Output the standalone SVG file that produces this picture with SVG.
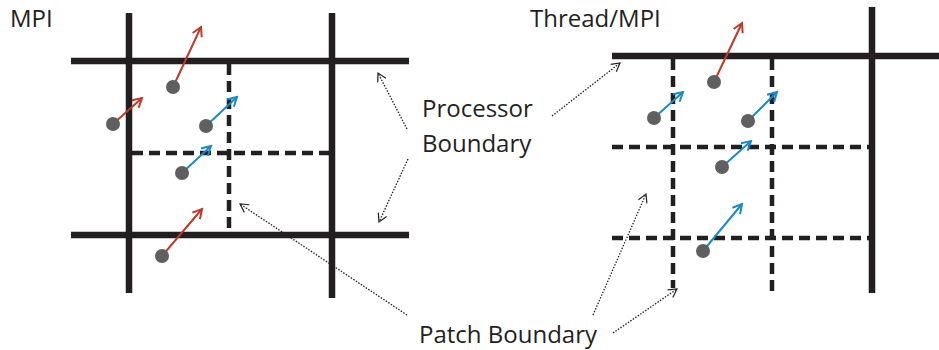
<svg xmlns="http://www.w3.org/2000/svg" width="939" height="350" viewBox="0 0 939 350">
<defs>
<style>
.solid{stroke:#231f20;stroke-width:6.5;fill:none}
.dash{stroke:#231f20;stroke-width:4.5;stroke-dasharray:11 6;fill:none}
.dot{fill:#5f5f60}
.red{stroke:#be3a26;stroke-width:2;fill:none;marker-end:url(#hr)}
.blue{stroke:#1a8ac6;stroke-width:2;fill:none;marker-end:url(#hb)}
.ptr{stroke:#231f20;stroke-width:1.3;stroke-dasharray:1.5 1.5;fill:none;marker-end:url(#hk)}
text{font-family:"Open Sans","Liberation Sans",sans-serif;font-size:24px;fill:#231f20}
</style>
<marker id="hr" viewBox="0 0 12 12" refX="10" refY="6" markerWidth="12" markerHeight="12" markerUnits="userSpaceOnUse" orient="auto"><path d="M1,1 L10,6 L1,11" fill="none" stroke="#be3a26" stroke-width="2"/></marker>
<marker id="hb" viewBox="0 0 12 12" refX="10" refY="6" markerWidth="12" markerHeight="12" markerUnits="userSpaceOnUse" orient="auto"><path d="M1,1 L10,6 L1,11" fill="none" stroke="#1a8ac6" stroke-width="2"/></marker>
<marker id="hk" viewBox="0 0 12 12" refX="10" refY="6" markerWidth="11" markerHeight="11" markerUnits="userSpaceOnUse" orient="auto"><path d="M1,1 L10,6 L1,11" fill="none" stroke="#231f20" stroke-width="1.3"/></marker>
</defs>
<rect width="939" height="350" fill="#fff"/>

<g id="left-grid">
<line class="dash" x1="229" y1="64" x2="229" y2="231"/>
<line class="dash" x1="132" y1="153" x2="329" y2="153"/>
<line class="solid" x1="129" y1="13" x2="129" y2="293"/>
<line class="solid" x1="332" y1="13" x2="332" y2="298"/>
<line class="solid" x1="71" y1="61" x2="409" y2="61"/>
<line class="solid" x1="71" y1="235" x2="409" y2="235"/>
</g>

<g id="right-grid">
<line class="dash" x1="673" y1="59" x2="673" y2="288"/>
<line class="dash" x1="772" y1="59" x2="772" y2="293"/>
<line class="dash" x1="612" y1="147" x2="869" y2="147"/>
<line class="dash" x1="612" y1="238" x2="869" y2="238"/>
<line class="solid" x1="872" y1="7" x2="872" y2="293"/>
<line class="solid" x1="612" y1="56" x2="939" y2="56"/>
</g>

<g id="left-particles">
<line class="red" x1="173" y1="87" x2="201" y2="27"/>
<line class="red" x1="113" y1="124" x2="142" y2="98"/>
<line class="blue" x1="206" y1="126" x2="237" y2="97"/>
<line class="blue" x1="182" y1="173" x2="211" y2="146"/>
<line class="red" x1="162" y1="256" x2="202" y2="209"/>
<circle class="dot" cx="173" cy="87" r="7"/>
<circle class="dot" cx="113" cy="124" r="7"/>
<circle class="dot" cx="206" cy="126" r="7"/>
<circle class="dot" cx="182" cy="173" r="7"/>
<circle class="dot" cx="162" cy="256" r="7"/>
</g>

<g id="right-particles">
<line class="red" x1="714" y1="82" x2="742" y2="23"/>
<line class="blue" x1="654" y1="118" x2="683" y2="92"/>
<line class="blue" x1="748" y1="121" x2="777" y2="92"/>
<line class="blue" x1="722" y1="167" x2="751" y2="141"/>
<line class="blue" x1="703" y1="251" x2="742" y2="204"/>
<circle class="dot" cx="714" cy="82" r="7"/>
<circle class="dot" cx="654" cy="118" r="7"/>
<circle class="dot" cx="748" cy="121" r="7"/>
<circle class="dot" cx="722" cy="167" r="7"/>
<circle class="dot" cx="703" cy="251" r="7"/>
</g>

<g id="connectors">
<line class="ptr" x1="407" y1="129" x2="378" y2="73"/>
<line class="ptr" x1="408" y1="159" x2="379" y2="222"/>
<line class="ptr" x1="552" y1="116" x2="620" y2="63"/>
<line class="ptr" x1="407" y1="315" x2="240" y2="204"/>
<line class="ptr" x1="593" y1="315" x2="646" y2="194"/>
<line class="ptr" x1="613" y1="333" x2="677" y2="289"/>
</g>

<g id="labels">
<text id="label-mpi" x="10" y="27">MPI</text>
<text id="label-thread" x="530" y="27">Thread/MPI</text>
<text id="label-processor" x="422" y="117">Processor</text>
<text id="label-processor2" x="422" y="152">Boundary</text>
<text id="label-patch" x="419" y="343">Patch Boundary</text>
</g>
</svg>
